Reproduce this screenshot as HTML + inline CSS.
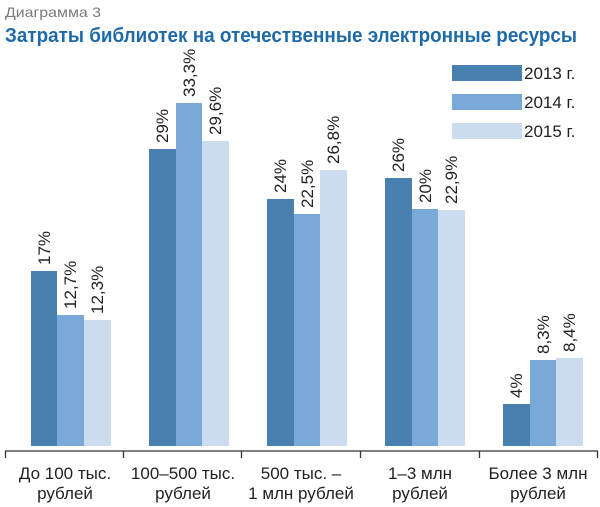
<!DOCTYPE html>
<html><head><meta charset="utf-8"><style>
html,body{margin:0;padding:0;background:#fff;}
svg{display:block;font-family:"Liberation Sans","DejaVu Sans",sans-serif;}
</style></head><body>
<svg width="600" height="507" viewBox="0 0 600 507" xmlns="http://www.w3.org/2000/svg">
<text x="5" y="17" font-size="14" fill="#7a7a7a" textLength="96" lengthAdjust="spacingAndGlyphs">Диаграмма 3</text>
<text x="5" y="42" font-size="20" font-weight="bold" fill="#1f6aa8" textLength="572" lengthAdjust="spacingAndGlyphs">Затраты библиотек на отечественные электронные ресурсы</text>
<g>
<rect x="452" y="65" width="70" height="16" fill="#4a80b0"/>
<rect x="452" y="94" width="70" height="16" fill="#78a9d9"/>
<rect x="452" y="123" width="70" height="16" fill="#ccdcef"/>
<g font-size="17" fill="#222"><text x="524" y="79">2013 г.</text><text x="524" y="108">2014 г.</text><text x="524" y="137">2015 г.</text></g>
</g>
<g>
<rect x="31" y="271" width="26" height="175" fill="#4a80b0"/>
<rect x="57" y="315" width="27" height="131" fill="#78a9d9"/>
<rect x="84" y="320" width="27" height="126" fill="#ccdcef"/>
<rect x="149" y="149" width="27" height="297" fill="#4a80b0"/>
<rect x="176" y="103" width="26" height="343" fill="#78a9d9"/>
<rect x="202" y="141" width="27" height="305" fill="#ccdcef"/>
<rect x="267" y="199" width="27" height="247" fill="#4a80b0"/>
<rect x="294" y="214" width="26" height="232" fill="#78a9d9"/>
<rect x="320" y="170" width="27" height="276" fill="#ccdcef"/>
<rect x="385" y="178" width="27" height="268" fill="#4a80b0"/>
<rect x="412" y="209" width="26" height="237" fill="#78a9d9"/>
<rect x="438" y="210" width="27" height="236" fill="#ccdcef"/>
<rect x="503" y="404" width="27" height="42" fill="#4a80b0"/>
<rect x="530" y="360" width="26" height="86" fill="#78a9d9"/>
<rect x="556" y="358" width="27" height="88" fill="#ccdcef"/>
</g>
<g font-size="17" fill="#222">
<text transform="translate(50,265) rotate(-90)">17%</text>
<text transform="translate(76,309) rotate(-90)">12,7%</text>
<text transform="translate(103,314) rotate(-90)">12,3%</text>
<text transform="translate(168,143) rotate(-90)">29%</text>
<text transform="translate(195,97) rotate(-90)">33,3%</text>
<text transform="translate(221,135) rotate(-90)">29,6%</text>
<text transform="translate(286,193) rotate(-90)">24%</text>
<text transform="translate(313,208) rotate(-90)">22,5%</text>
<text transform="translate(339,164) rotate(-90)">26,8%</text>
<text transform="translate(404,172) rotate(-90)">26%</text>
<text transform="translate(431,203) rotate(-90)">20%</text>
<text transform="translate(457,204) rotate(-90)">22,9%</text>
<text transform="translate(522,398) rotate(-90)">4%</text>
<text transform="translate(549,354) rotate(-90)">8,3%</text>
<text transform="translate(575,352) rotate(-90)">8,4%</text>
</g>
<g stroke="#333" stroke-width="1.3">
<line x1="5" y1="451" x2="598" y2="451"/>
<line x1="5.5" y1="451" x2="5.5" y2="458"/>
<line x1="123.5" y1="451" x2="123.5" y2="458"/>
<line x1="241.5" y1="451" x2="241.5" y2="458"/>
<line x1="360.5" y1="451" x2="360.5" y2="458"/>
<line x1="479.5" y1="451" x2="479.5" y2="458"/>
<line x1="597.5" y1="451" x2="597.5" y2="458"/>
</g>
<g font-size="17" fill="#222" text-anchor="middle">
<text x="65" y="479">До 100 тыс.</text><text x="65" y="499">рублей</text>
<text x="183" y="479">100–500 тыс.</text><text x="183" y="499">рублей</text>
<text x="301" y="479">500 тыс. –</text><text x="301" y="499">1 млн  рублей</text>
<text x="420" y="479">1–3 млн</text><text x="420" y="499">рублей</text>
<text x="538" y="479">Более 3 млн</text><text x="538" y="499">рублей</text>
</g>
</svg>
</body></html>
